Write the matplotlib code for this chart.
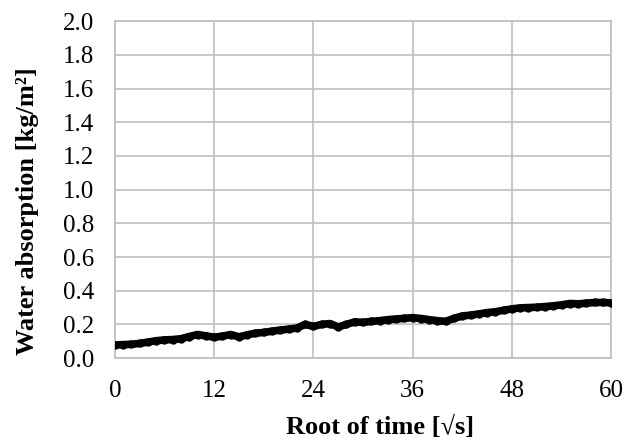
import matplotlib
matplotlib.use("Agg")
import matplotlib.pyplot as plt

# root of time [sqrt(s)] and water absorption [kg/m2]
root_time = list(range(0, 61))
absorption = [0.077, 0.080, 0.082, 0.087, 0.095, 0.103, 0.108, 0.110, 0.115, 0.128,
              0.140, 0.132, 0.124, 0.130, 0.140, 0.126, 0.138, 0.148, 0.152, 0.160,
              0.166, 0.172, 0.178, 0.200, 0.188, 0.200, 0.205, 0.185, 0.200, 0.215,
              0.212, 0.218, 0.222, 0.228, 0.232, 0.236, 0.240, 0.235, 0.228, 0.222,
              0.218, 0.236, 0.250, 0.255, 0.262, 0.270, 0.275, 0.284, 0.292, 0.298,
              0.300, 0.302, 0.306, 0.310, 0.316, 0.324, 0.322, 0.326, 0.330, 0.330,
              0.328]

x_ticks = [0, 12, 24, 36, 48, 60]
y_ticks = [round(0.2 * i, 1) for i in range(11)]

plt.rcParams['font.family'] = ['Liberation Serif', 'DejaVu Serif']

fig = plt.figure(figsize=(6.38, 4.41), dpi=100)
ax = fig.add_axes([0.180, 0.188, 0.778, 0.764])

ax.plot(root_time, absorption, color='black', linewidth=5.5, marker='o',
        markersize=5, solid_capstyle='round', zorder=3)

ax.set_xlim(0, 60)
ax.set_ylim(0, 2.0)
ax.set_xticks(x_ticks)
ax.set_yticks(y_ticks)
ax.set_yticklabels([f"{v:.1f}" for v in y_ticks])
ax.tick_params(length=0, labelsize=18)
ax.tick_params(axis='x', pad=15.5)
ax.tick_params(axis='y', pad=15)
ax.grid(True, color='#bfbfbf', linewidth=1.2)
for s in ax.spines.values():
    s.set_color('#bfbfbf')
    s.set_linewidth(1.2)

ax.set_xlabel("Root of time [√s]", fontsize=19, fontweight='bold')
ax.set_ylabel("Water absorption [kg/m²]", fontsize=19, fontweight='bold')
ax.xaxis.set_label_coords(0.535, -0.172)
ax.yaxis.set_label_coords(-0.153, 0.435)

fig.savefig("out.png", dpi=100)
